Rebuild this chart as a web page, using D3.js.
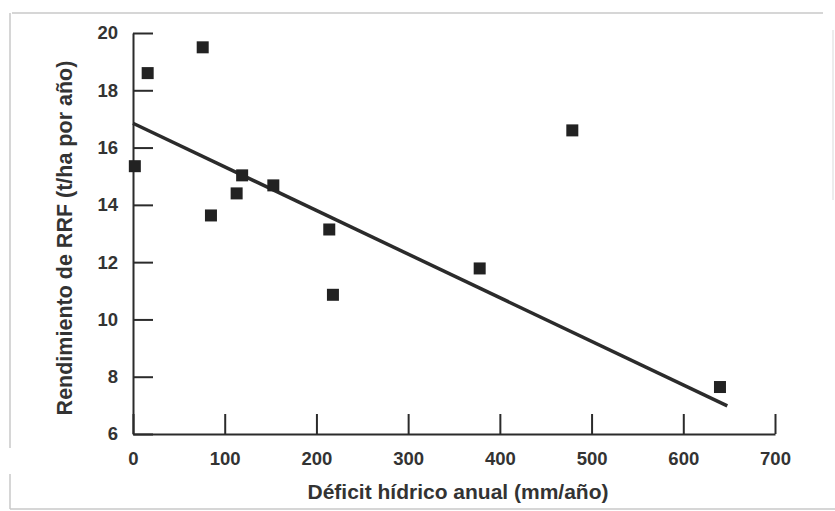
<!DOCTYPE html>
<html>
<head>
<meta charset="utf-8">
<script src="https://cdn.jsdelivr.net/npm/d3@7"></script>
<style>
  html, body { margin: 0; padding: 0; background: #fff; }
  svg { display: block; }
</style>
</head>
<body>
<svg id="chart" width="835" height="511"></svg>
<script>
// ---- data ----
const deficit = [2, 16, 76, 85, 113, 119, 153, 214, 218, 378, 479, 640];
const yieldRRF = [15.35, 18.6, 19.5, 13.63, 14.4, 15.03, 14.68, 13.14, 10.86, 11.78, 16.6, 7.64];
const fitX = [0, 648];
const fitY = [16.85, 6.98];
const xTicks = [0, 100, 200, 300, 400, 500, 600, 700];
const yTicks = [6, 8, 10, 12, 14, 16, 18, 20];
const xTitle = "Déficit hídrico anual (mm/año)";
const yTitle = "Rendimiento de RRF (t/ha por año)";

// ---- drawing ----
const svg = d3.select("#chart");
const font = "'Liberation Sans', Arial, sans-serif";
const ink = "#2b2b2b";

// faint scanned frame
const frame = svg.append("g").attr("stroke", "#c8c8c8").attr("stroke-width", 1.5).attr("fill", "none");
frame.append("line").attr("x1", 12).attr("y1", 13).attr("x2", 823).attr("y2", 13);
frame.append("line").attr("x1", 10).attr("y1", 13).attr("x2", 10).attr("y2", 448);
frame.append("line").attr("x1", 10).attr("y1", 474).attr("x2", 10).attr("y2", 509);
frame.append("line").attr("x1", 10).attr("y1", 509).attr("x2", 835).attr("y2", 509);
frame.append("line").attr("x1", 833).attr("y1", 30).attr("x2", 833).attr("y2", 200).attr("stroke", "#e6e6e6");

const x = d3.scaleLinear().domain([0, 700]).range([133, 775]);
const y = d3.scaleLinear().domain([6, 20]).range([434, 33]);

const xAxis = d3.axisBottom(x).tickValues(xTicks).tickFormat(d3.format("d"))
  .tickSizeInner(-20).tickSizeOuter(0).tickPadding(18);
const yAxis = d3.axisLeft(y).tickValues(yTicks).tickFormat(d3.format("d"))
  .tickSizeInner(-20).tickSizeOuter(0).tickPadding(15);

const gx = svg.append("g").attr("transform", `translate(0,${y(6)})`).call(xAxis);
const gy = svg.append("g").attr("transform", `translate(${x(0)},0)`).call(yAxis);

[gx, gy].forEach(g => {
  g.select(".domain").attr("stroke", ink).attr("stroke-width", 2);
  g.selectAll(".tick line").attr("stroke", ink).attr("stroke-width", 2);
  g.selectAll(".tick text")
    .attr("fill", "#333")
    .style("font-family", font)
    .style("font-weight", "bold")
    .style("font-size", "18.5px");
});

// regression line
const line = d3.line().x(d => x(d[0])).y(d => y(d[1]));
svg.append("path")
  .datum(d3.zip(fitX, fitY))
  .attr("d", line)
  .attr("fill", "none")
  .attr("stroke", ink)
  .attr("stroke-width", 3.5);

// points
const s = 12;
svg.append("g").selectAll("rect")
  .data(d3.zip(deficit, yieldRRF))
  .join("rect")
  .attr("x", d => x(d[0]) - s / 2)
  .attr("y", d => y(d[1]) - s / 2)
  .attr("width", s)
  .attr("height", s)
  .attr("fill", "#222");

// axis titles
svg.append("text")
  .attr("x", 458)
  .attr("y", 499)
  .attr("text-anchor", "middle")
  .attr("fill", "#333")
  .style("font-family", font)
  .style("font-weight", "bold")
  .style("font-size", "21px")
  .text(xTitle);

svg.append("text")
  .attr("transform", "translate(72,238) rotate(-90)")
  .attr("text-anchor", "middle")
  .attr("fill", "#333")
  .style("font-family", font)
  .style("font-weight", "bold")
  .style("font-size", "21.5px")
  .text(yTitle);
</script>
</body>
</html>
